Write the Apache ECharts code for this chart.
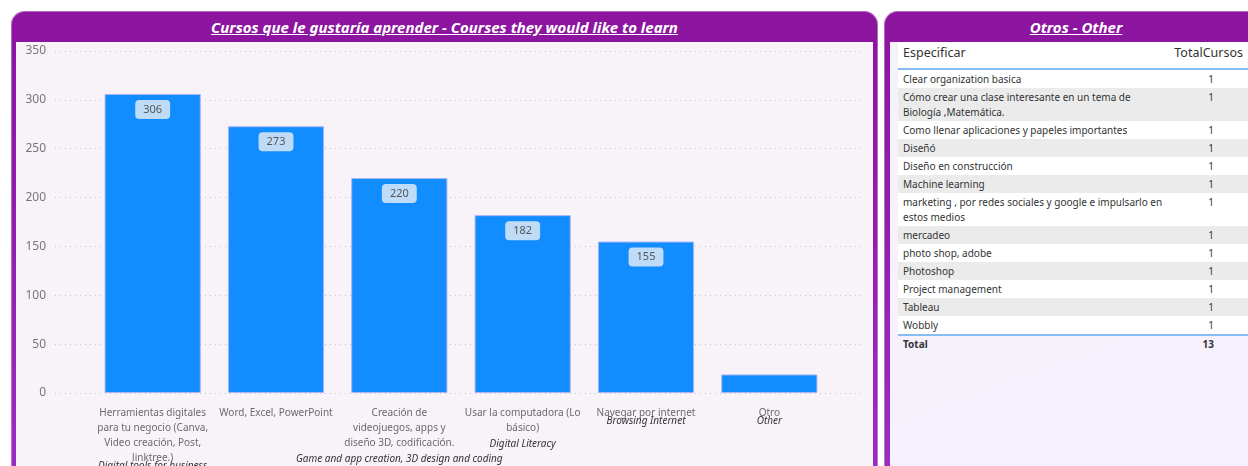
<!DOCTYPE html>
<html>
<head>
<meta charset="utf-8">
<script src="https://cdn.jsdelivr.net/npm/echarts/dist/echarts.min.js"></script>
<style>
  html, body { margin:0; padding:0; background:#ffffff; width:1248px; height:466px; overflow:hidden; }
  body { position:relative; font-family:"Segoe UI","Noto Sans","Open Sans",sans-serif; }
  .panel { position:absolute; top:11px; height:470px; border-radius:14px 14px 0 0;
           background:linear-gradient(180deg,#8C149F 0%,#9220AD 50%,#9A2EC2 100%);
           box-shadow: inset 0 0 0 1px rgba(255,255,255,0.35); }
  .hdr { position:absolute; left:0; right:0; top:1px; height:31px; line-height:31px; text-align:center;
         color:#fff; font-weight:bold; font-style:italic; text-decoration:underline; font-size:15px; }
  .inner { position:absolute; top:31px; bottom:0; }
  #left { left:11px; width:867px; }
  #left .inner { left:5px; right:5px; background:#F8F2F9; }
  #right { left:884px; width:384px; }
  #right .inner { left:6px; right:6px; background:linear-gradient(160deg,#F7F2FA 0%,#F5F0FC 100%); }
  #chart { position:absolute; left:0; top:0; width:880px; height:466px; }
  #tbl { position:absolute; left:898px; top:42px; width:352px; border-collapse:collapse; color:#333; }
  #tbl th { background:#fff; font-weight:normal; font-size:12.5px; padding:4px 5px 8px 5px; height:14px; line-height:14px; text-align:left; }
  #tbl th.num { text-align:right; padding-right:7px; }
  #tbl thead tr { border-bottom:2px solid #86BDF0; }
  #tbl td { font-size:10px; line-height:15px; padding:1.5px 5px; vertical-align:top; white-space:pre; }
  #tbl td.num { text-align:right; padding-right:36px; }
  #tbl tbody tr:nth-child(odd) { background:#ffffff; }
  #tbl tbody tr:nth-child(even) { background:#EBEBEB; }
  #tbl tfoot tr { border-top:2px solid #86BDF0; }
  #tbl tfoot td { font-weight:bold; padding-top:1px; }
</style>
</head>
<body>
<div class="panel" id="left"><div class="hdr">Cursos que le gustaría aprender - Courses they would like to learn</div><div class="inner"></div></div>
<div class="panel" id="right"><div class="hdr">Otros - Other</div><div class="inner"></div></div>
<table id="tbl">
  <colgroup><col style="width:282px"><col style="width:70px"></colgroup>
  <thead><tr><th id="h1"></th><th class="num" id="h2"></th></tr></thead>
  <tbody id="tb"></tbody>
  <tfoot><tr><td id="totLabel"></td><td class="num" id="totVal"></td></tr></tfoot>
</table>
<div id="chart"></div>
<script>
// ---- Chart data ----
const categories = [
  "Herramientas digitales\npara tu negocio (Canva,\nVideo creación, Post,\nlinktree.)",
  "Word, Excel, PowerPoint",
  "Creación de\nvideojuegos, apps y\ndiseño 3D, codificación.",
  "Usar la computadora (Lo\nbásico)",
  "Navegar por internet",
  "Otro"
];
const englishLabels = [
  "Digital tools for business",
  "",
  "Game and app creation, 3D design and coding",
  "Digital Literacy",
  "Browsing Internet",
  "Other"
];
const values = [306, 273, 220, 182, 155, 19];
const yTicks = [0, 50, 100, 150, 200, 250, 300, 350];

// ---- Table data ----
const tableHeaders = ["Especificar", "TotalCursos"];
const otherItems = [
  "Clear organization basica",
  "Cómo crear una clase interesante en un tema de\nBiología ,Matemática.",
  "Como llenar aplicaciones y papeles importantes",
  "Diseñó",
  "Diseño en construcción",
  "Machine learning",
  "marketing , por redes sociales y google e impulsarlo en\nestos medios",
  "mercadeo",
  "photo shop, adobe",
  "Photoshop",
  "Project management",
  "Tableau",
  "Wobbly"
];
const otherCounts = [1,1,1,1,1,1,1,1,1,1,1,1,1];
const totalLabel = "Total";
const totalValue = 13;

// build table
document.getElementById('h1').textContent = tableHeaders[0];
document.getElementById('h2').textContent = tableHeaders[1];
const tb = document.getElementById('tb');
otherItems.forEach((t, i) => {
  const tr = document.createElement('tr');
  const a = document.createElement('td'); a.textContent = t;
  const b = document.createElement('td'); b.className = 'num'; b.textContent = otherCounts[i];
  tr.appendChild(a); tr.appendChild(b); tb.appendChild(tr);
});
document.getElementById('totLabel').textContent = totalLabel;
document.getElementById('totVal').textContent = totalValue;

// build chart
const FONT = '"Segoe UI","Noto Sans","Open Sans",sans-serif';
const enStyleByIndex = ['enTight', 'en', 'en', 'en', 'enTight', 'enTight'];
const chart = echarts.init(document.getElementById('chart'));
chart.setOption({
  animation: false,
  textStyle: { fontFamily: FONT },
  grid: [
    { left: 55, right: 18, top: 51, bottom: 73, outerBoundsMode: 'none', containLabel: false },
    { left: 91, right: 49, top: 51, bottom: 73, outerBoundsMode: 'none', containLabel: false }
  ],
  xAxis: [
    { gridIndex: 0, type: 'value', show: false, min: 0, max: 1 },
    {
      gridIndex: 1, type: 'category', data: categories,
      axisLine: { show: false }, axisTick: { show: false },
      axisLabel: {
        interval: 0, margin: 13,
        formatter: function (val, idx) {
          const lines = val.split('\n').map(l => '{es|' + l + '}');
          let s = lines.join('\n');
          if (englishLabels[idx]) s += '\n{' + enStyleByIndex[idx] + '|' + englishLabels[idx] + '}';
          return s;
        },
        rich: {
          es: { color: '#6b6b6b', fontSize: 10, lineHeight: 15, fontFamily: FONT, align: 'center' },
          en: { color: '#333', fontSize: 10, fontStyle: 'italic', lineHeight: 17, fontFamily: FONT, align: 'center' },
          enTight: { color: '#333', fontSize: 10, fontStyle: 'italic', lineHeight: 1, fontFamily: FONT, align: 'center' }
        }
      }
    }
  ],
  yAxis: [
    {
      gridIndex: 0, type: 'value', min: yTicks[0], max: yTicks[yTicks.length - 1], interval: yTicks[1] - yTicks[0],
      axisLine: { show: false }, axisTick: { show: false },
      axisLabel: { color: '#777', fontSize: 12, margin: 9 },
      splitLine: { lineStyle: { type: [1, 4], color: '#c4c4c4', width: 1 } }
    },
    { gridIndex: 1, type: 'value', min: yTicks[0], max: yTicks[yTicks.length - 1], interval: yTicks[1] - yTicks[0], show: false, splitLine: { show: false } }
  ],
  series: [{
    type: 'bar', xAxisIndex: 1, yAxisIndex: 1,
    data: values.map(v => ({ value: v, label: { show: v >= 50 } })),
    barWidth: '78%',
    itemStyle: { color: '#118DFF', borderColor: '#A9B6F2', borderWidth: 1 },
    label: {
      position: 'insideTop', distance: 6, color: '#555', fontSize: 11,
      backgroundColor: '#BEDCF8', borderRadius: 4, padding: [4, 8]
    }
  }]
});
</script>
</body>
</html>
